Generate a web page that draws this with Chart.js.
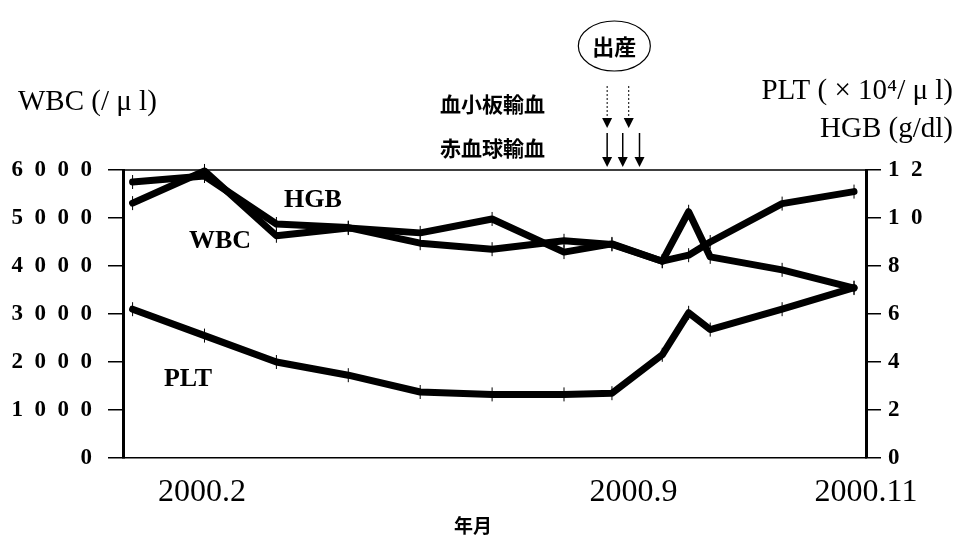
<!DOCTYPE html>
<html>
<head>
<meta charset="utf-8">
<script src="https://cdn.jsdelivr.net/npm/chart.js@4.4.0/dist/chart.umd.min.js"></script>
<style>
  body { margin: 0; background: #fff; }
</style>
</head>
<body>
<canvas id="chart" width="957" height="544"></canvas>
<script>
// days counted from the start of the x axis
const days = [4, 34, 64, 94, 124, 154, 184, 204, 225, 236, 245, 275, 305];
const wbc = [5310, 5980, 4630, 4790, 4690, 4980, 4290, 4460, 4100, 5130, 4190, 3920, 3540];
const hgb = [11.5, 11.75, 9.75, 9.6, 8.95, 8.7, 9.05, 8.9, 8.2, 8.45, 9.0, 10.6, 11.1];
const plt = [6.2, 5.1, 4.0, 3.45, 2.75, 2.65, 2.65, 2.7, 4.3, 6.05, 5.35, 6.2, 7.1];

const xTickValues = [33, 213, 310];
const xTickLabels = ['2000.2', '2000.9', '2000.11'];
const leftTicks = [0, 1000, 2000, 3000, 4000, 5000, 6000];
const rightTicks = [0, 2, 4, 6, 8, 10, 12];

// events marked with arrows above the plot
const birthDay = 205;
const pltTransfusions = [202, 211];
const rbcTransfusions = [202, 208.5, 215.5];

const serif = 'Liberation Serif';
const cjk = 'Noto Sans CJK JP';

const toPoints = arr => arr.map((v, i) => ({ x: days[i], y: v }));
const spaced = v => String(v).split('').join('\u2002');

function arrow(ctx, x, y1, y2, dashed) {
  ctx.save();
  ctx.lineWidth = dashed ? 1 : 1.5;
  if (dashed) ctx.setLineDash([2, 2]);
  ctx.beginPath();
  ctx.moveTo(x, y1);
  ctx.lineTo(x, y2 - 8);
  ctx.stroke();
  ctx.setLineDash([]);
  ctx.beginPath();
  ctx.moveTo(x - 5, y2 - 10);
  ctx.lineTo(x + 5, y2 - 10);
  ctx.lineTo(x, y2);
  ctx.closePath();
  ctx.fill();
  ctx.restore();
}

function text(ctx, str, x, y, font, align) {
  ctx.font = font;
  ctx.textAlign = align || 'center';
  ctx.textBaseline = 'middle';
  ctx.fillText(str, x, y);
}

const notes = {
  id: 'notes',
  afterDraw(chart) {
    const { ctx, chartArea: a, scales: { x } } = chart;
    ctx.save();
    ctx.fillStyle = '#000';
    ctx.strokeStyle = '#000';

    // top frame line
    ctx.lineWidth = 1.5;
    ctx.beginPath();
    ctx.moveTo(a.left, a.top);
    ctx.lineTo(a.right, a.top);
    ctx.stroke();

    // axis titles
    text(ctx, 'WBC (/ \u03bc l)', 18, 102, `29px "${serif}"`, 'left');
    text(ctx, 'PLT ( \u00d7 10\u2074/ \u03bc l)', 953, 91, `29px "${serif}"`, 'right');
    text(ctx, 'HGB (g/dl)', 953, 129, `29px "${serif}"`, 'right');
    text(ctx, '年月', 473, 526, `bold 19px "${cjk}"`);

    // series names
    text(ctx, 'HGB', 313, 200, `bold 26px "${serif}"`);
    text(ctx, 'WBC', 220, 241, `bold 26px "${serif}"`);
    text(ctx, 'PLT', 188, 379, `bold 26px "${serif}"`);

    // delivery
    const bx = x.getPixelForValue(birthDay);
    ctx.lineWidth = 1.2;
    ctx.beginPath();
    ctx.ellipse(bx, 46, 36, 25, 0, 0, Math.PI * 2);
    ctx.stroke();
    text(ctx, '出産', bx, 47, `bold 22px "${cjk}"`);

    // transfusions
    text(ctx, '血小板輸血', 440, 104, `bold 21px "${cjk}"`, 'left');
    text(ctx, '赤血球輸血', 440, 148, `bold 21px "${cjk}"`, 'left');
    pltTransfusions.forEach(d => arrow(ctx, x.getPixelForValue(d), 86, 128, true));
    rbcTransfusions.forEach(d => arrow(ctx, x.getPixelForValue(d), 133, 167, false));

    ctx.restore();
  }
};

const line = (label, data, axis) => ({
  label: label,
  data: toPoints(data),
  yAxisID: axis,
  borderColor: '#000',
  backgroundColor: '#000',
  borderWidth: 7,
  borderJoinStyle: 'round',
  borderCapStyle: 'round',
  pointStyle: 'line',
  pointRotation: 90,
  pointRadius: 7,
  pointBorderWidth: 1,
  tension: 0,
  clip: false
});

new Chart(document.getElementById('chart'), {
  type: 'line',
  data: {
    datasets: [
      line('WBC', wbc, 'y'),
      line('HGB', hgb, 'yR'),
      line('PLT', plt, 'yR')
    ]
  },
  options: {
    responsive: false,
    devicePixelRatio: 1,
    animation: false,
    layout: { padding: { top: 170, left: 0, right: 0, bottom: 0 } },
    plugins: { legend: { display: false }, tooltip: { enabled: false } },
    scales: {
      x: {
        type: 'linear',
        min: 0,
        max: 310,
        afterBuildTicks: s => { s.ticks = xTickValues.map(v => ({ value: v })); },
        afterFit: s => { s.height = 86; },
        ticks: {
          autoSkip: false,
          maxRotation: 0,
          padding: 15,
          color: '#000',
          font: { family: serif, size: 32 },
          callback: v => xTickLabels[xTickValues.indexOf(v)]
        },
        grid: { display: false, drawTicks: false },
        border: { color: '#000', width: 1.5 }
      },
      y: {
        position: 'left',
        min: 0,
        max: 6000,
        afterBuildTicks: s => { s.ticks = leftTicks.map(v => ({ value: v })); },
        afterFit: s => { s.width = 123; },
        ticks: {
          padding: 16,
          color: '#000',
          font: { family: serif, size: 23, weight: 'bold' },
          callback: v => spaced(v)
        },
        grid: { drawOnChartArea: false, tickLength: 15, color: '#000', lineWidth: 1.5 },
        border: { color: '#000', width: 3 }
      },
      yR: {
        position: 'right',
        min: 0,
        max: 12,
        afterBuildTicks: s => { s.ticks = rightTicks.map(v => ({ value: v })); },
        afterFit: s => { s.width = 91; },
        ticks: {
          padding: 7,
          color: '#000',
          font: { family: serif, size: 23, weight: 'bold' },
          callback: v => spaced(v)
        },
        grid: { drawOnChartArea: false, tickLength: 15, color: '#000', lineWidth: 1.5 },
        border: { color: '#000', width: 3 }
      }
    }
  },
  plugins: [notes]
});
</script>
</body>
</html>
